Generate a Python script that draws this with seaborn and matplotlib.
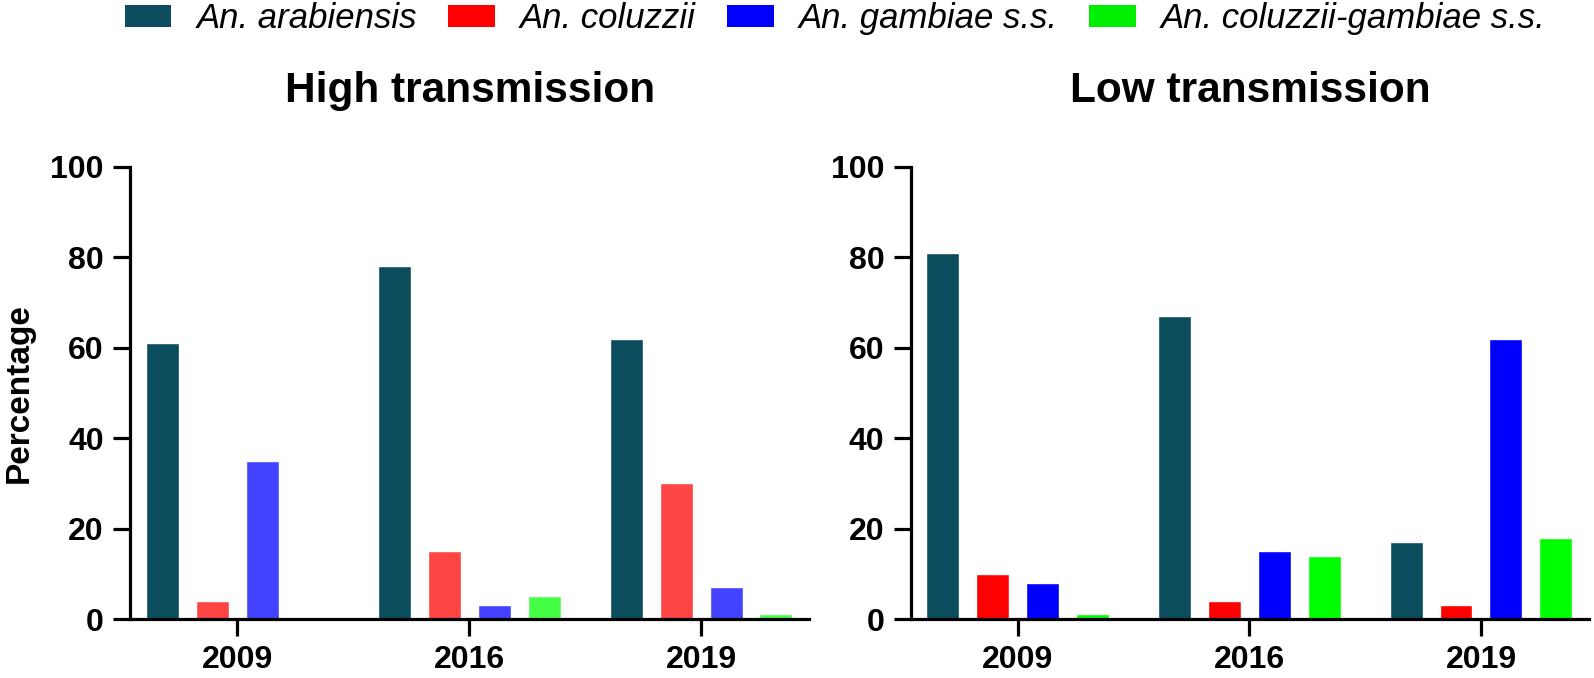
import pandas as pd
import matplotlib.pyplot as plt
import seaborn as sns
from matplotlib.patches import Patch

# --- data ---
years = ['2009', '2016', '2019']
species = ['An. arabiensis', 'An. coluzzii', 'An. gambiae s.s.', 'An. coluzzii-gambiae s.s.']

high_arabiensis = [61, 78, 62]
high_coluzzii = [4, 15, 30]
high_gambiae = [35, 3, 7]
high_hybrid = [0, 5, 1]

low_arabiensis = [81, 67, 17]
low_coluzzii = [10, 4, 3]
low_gambiae = [8, 15, 62]
low_hybrid = [1, 14, 18]

high_colors = ['#0b4d5d', '#ff4444', '#4242ff', '#44ff44']
low_colors = ['#0b4d5d', '#ff0000', '#0000ff', '#00ff00']
legend_colors = ['#0b4d5d', '#ff0000', '#0000ff', '#00ee00']


def make_frame(series):
    rows = []
    for sp, vals in zip(species, series):
        for yr, v in zip(years, vals):
            rows.append({'year': yr, 'species': sp, 'pct': v})
    return pd.DataFrame(rows)


df_high = make_frame([high_arabiensis, high_coluzzii, high_gambiae, high_hybrid])
df_low = make_frame([low_arabiensis, low_coluzzii, low_gambiae, low_hybrid])

sns.set_style('ticks')
plt.rcParams['font.family'] = ['Liberation Sans', 'DejaVu Sans']
plt.rcParams['text.color'] = 'black'
plt.rcParams['axes.labelcolor'] = 'black'
plt.rcParams['xtick.color'] = 'black'
plt.rcParams['ytick.color'] = 'black'

fig = plt.figure(figsize=(15.94, 6.78), dpi=100)
ax1 = fig.add_axes([0.0816, 0.087, 0.426, 0.6667])
ax2 = fig.add_axes([0.5715, 0.087, 0.4253, 0.6667])

panels = [(ax1, df_high, high_colors, 'High transmission'),
          (ax2, df_low, low_colors, 'Low transmission')]

for ax, df, pal, title in panels:
    sns.barplot(data=df, x='year', y='pct', hue='species', palette=pal,
                width=0.862, gap=0.34, ax=ax, legend=False, saturation=1)
    ax.set_xlim(-0.461, 2.466)
    ax.set_ylim(0, 100)
    ax.set_yticks([0, 20, 40, 60, 80, 100])
    ax.set_xlabel('')
    ax.set_ylabel('')
    sns.despine(ax=ax)
    for s in ['left', 'bottom']:
        ax.spines[s].set_linewidth(2.3)
        ax.spines[s].set_color('black')
    ax.tick_params(axis='both', width=2.3, length=12, color='black',
                   labelcolor='black', labelsize=23, pad=7)
    for lab in ax.get_xticklabels() + ax.get_yticklabels():
        lab.set_fontweight('bold')
    ax.set_title(title, fontsize=30.5, fontweight='bold', pad=47, color='black')

ax1.set_ylabel('Percentage', fontsize=24, fontweight='bold')
ax1.yaxis.set_label_coords(-0.14, 0.5)

handles = [Patch(facecolor=c, edgecolor='none') for c in legend_colors]
fig.legend(handles, species, loc='center', bbox_to_anchor=(0.524, 0.972),
           ncol=4, frameon=False, prop={'style': 'italic', 'size': 25},
           handlelength=1.35, handleheight=0.6, handletextpad=0.72,
           columnspacing=0.9, borderpad=0, borderaxespad=0)

fig.savefig('out.png', dpi=100)
